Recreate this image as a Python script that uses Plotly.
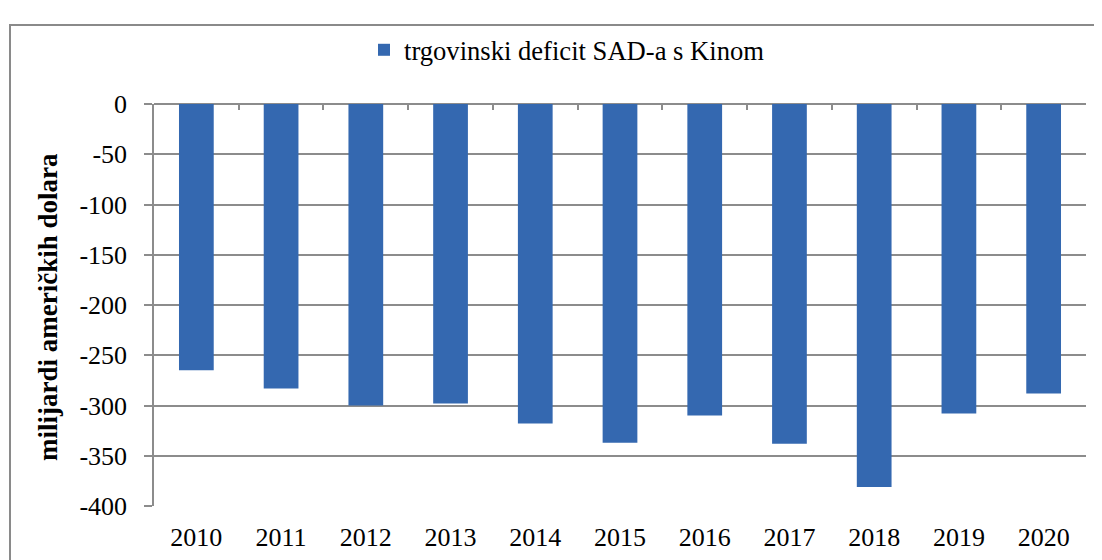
import plotly.graph_objects as go

years = ["2010", "2011", "2012", "2013", "2014", "2015", "2016", "2017", "2018", "2019", "2020"]
deficit = [-265, -283, -300, -298, -318, -337, -310, -338, -381, -308, -288]
series_name = "trgovinski deficit SAD-a s Kinom"
y_ticks = [0, -50, -100, -150, -200, -250, -300, -350, -400]
y_title = "milijardi američkih dolara"

# page body has an 8px margin, so work in figure pixels = screen pixels - 8
OFF = 8
W, H = 1102 - OFF, 560 - OFF
L, T = 154 - OFF, 104 - OFF
R = W - (1086 - OFF)
B = H - (506 - OFF)
pw, ph = W - L - R, H - T - B

def px_x(p):
    return (p - OFF - L) / pw

def px_y(p):
    return 1 - (p - OFF - T) / ph

FONT = "Liberation Serif"
GRID = "#8c8c8c"

def f(size=26):
    return dict(family=FONT, size=size, color="black")

fig = go.Figure()
fig.add_trace(go.Bar(
    x=list(range(len(years))), y=deficit, name=series_name,
    marker=dict(color="#3468b0", line=dict(width=0)),
    width=0.41, showlegend=True,
))

n = len(years)
fig.add_trace(go.Scatter(x=[-0.5, n - 0.5], y=[0, 0], xaxis="x2", mode="lines",
                         line=dict(width=0), hoverinfo="skip", showlegend=False))

fig.update_layout(
    width=W, height=H,
    margin=dict(l=L, r=R, t=T, b=B, autoexpand=False),
    paper_bgcolor="white", plot_bgcolor="white",
    font=f(),
    xaxis=dict(
        tickmode="array", tickvals=list(range(n)), ticktext=years,
        range=[-0.5, n - 0.5], showgrid=False, zeroline=False,
        showline=False, ticks="", tickfont=f(26), automargin=False,
        ticklabelstandoff=13,
    ),
    xaxis2=dict(
        overlaying="x", side="top", range=[-0.5, n - 0.5],
        tickmode="array", tickvals=[i - 0.5 for i in range(n + 1)],
        ticks="inside", ticklen=6, tickcolor=GRID, tickwidth=1.5,
        showticklabels=False, showgrid=False, zeroline=False, showline=False,
        anchor="y", automargin=False,
    ),
    yaxis=dict(
        range=[-400, 0], tickmode="array", tickvals=y_ticks,
        ticktext=[str(v) for v in y_ticks],
        showgrid=True, gridcolor=GRID, gridwidth=1.5,
        zeroline=True, zerolinecolor=GRID, zerolinewidth=1.5,
        showline=True, linecolor=GRID, linewidth=1.5,
        ticks="outside", ticklen=8, tickcolor=GRID, tickwidth=1.5,
        ticklabelstandoff=12, tickfont=f(26), automargin=False,
    ),
    legend=dict(
        orientation="h", x=px_x(567), xanchor="center",
        y=px_y(50), yanchor="middle",
        font=f(26.6), bgcolor="rgba(0,0,0,0)",
        itemwidth=30,
    ),
    annotations=[dict(
        text="<b>" + y_title + "</b>", textangle=-90,
        xref="paper", yref="paper", x=px_x(48), y=px_y(307),
        xanchor="center", yanchor="middle", showarrow=False,
        font=f(27),
    )],
    shapes=[dict(
        type="rect", xref="paper", yref="paper",
        x0=px_x(10), x1=px_x(1100), y0=px_y(580), y1=px_y(25),
        line=dict(color="#8a8a8a", width=2), fillcolor="rgba(0,0,0,0)",
        layer="below",
    )],
)

fig.write_html("out.html")
